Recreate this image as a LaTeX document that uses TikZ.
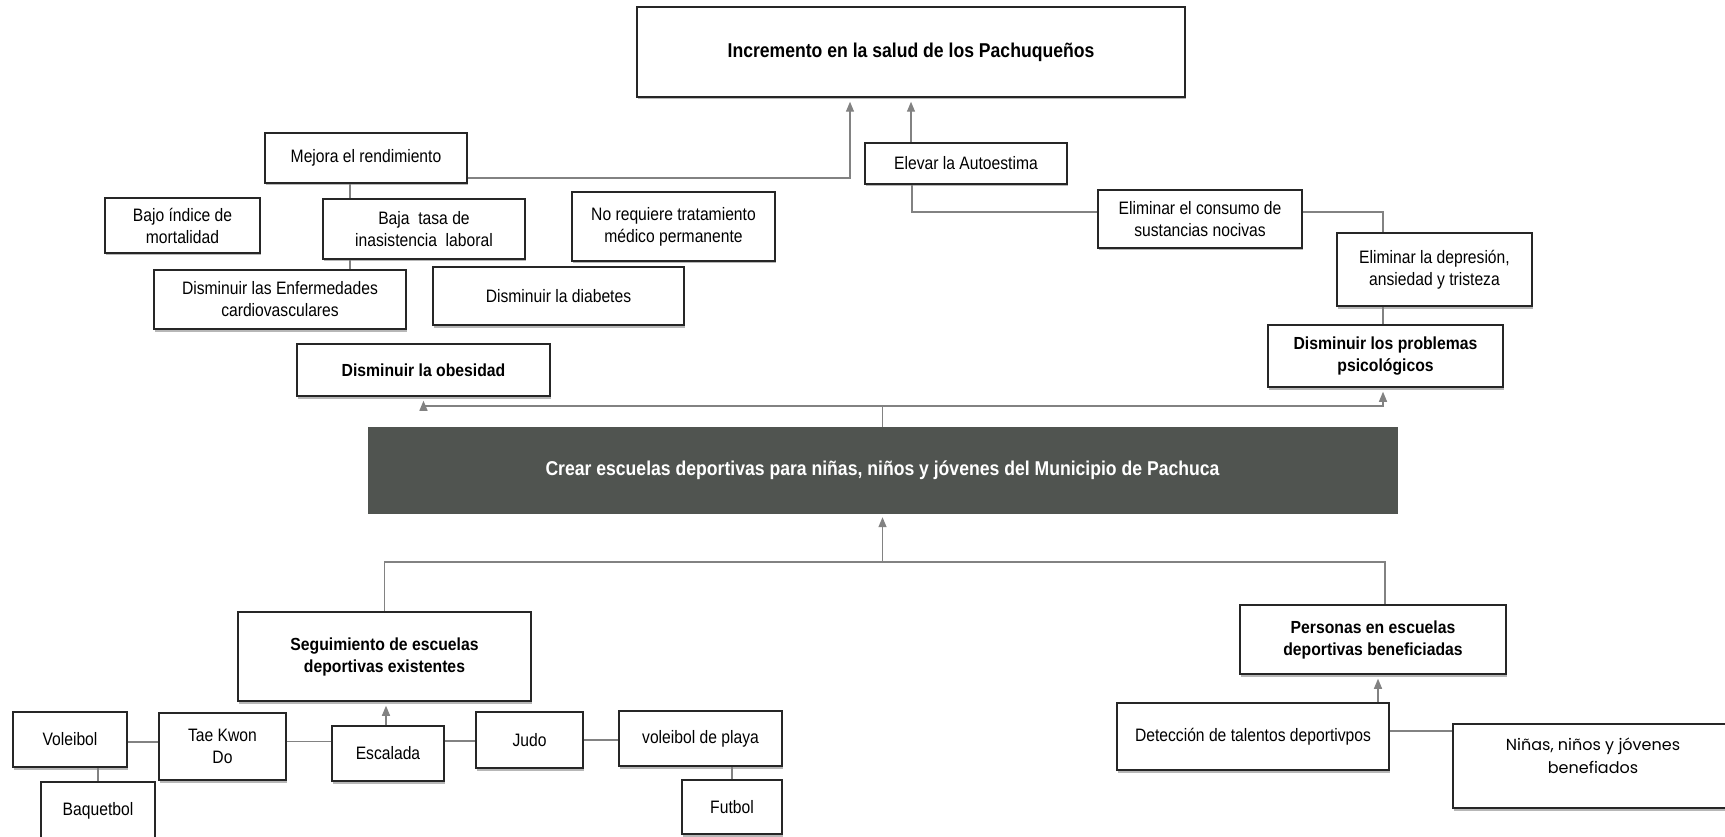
\documentclass[tikz,border=0pt]{standalone}
\usepackage{fontspec}
\setmainfont{Liberation Sans}
\newfontfamily\condfont[FakeStretch=0.87]{Liberation Sans}
\newfontfamily\condbold[FakeStretch=0.9]{Liberation Sans Bold}
\newfontfamily\titlebold[FakeStretch=0.88]{Liberation Sans Bold}
\newfontfamily\gothfont{Poppins}
\usetikzlibrary{arrows.meta,shadows}
\definecolor{darkbox}{RGB}{80,84,80}
\definecolor{linkgray}{RGB}{130,130,130}
\tikzset{
  box/.style={draw=black!85, line width=1.5pt, fill=white, inner sep=0pt, align=center,
    font=\condfont\fontsize{18}{22}\selectfont,
    drop shadow={shadow xshift=1pt, shadow yshift=-2.5pt, fill=black!35, opacity=0.8}},
  bbox/.style={box, font=\condbold\fontsize{17.5}{22}\selectfont},
  link/.style={draw=linkgray, line width=1.3pt},
  arr/.style={link, -{Triangle[width=8pt,length=10pt]}, shorten >=4pt},
}
\begin{document}
\begin{tikzpicture}[x=1pt,y=-1pt]
\useasboundingbox (0,0) rectangle (1725,837);
\fill[white] (0,0) rectangle (1725,837);
% upper part
\node[box, minimum width=548pt, minimum height=90pt,
  font=\titlebold\fontsize{20}{24}\selectfont] (top) at (911,52) {Incremento en la salud de los Pachuqueños};
\node[box, minimum width=202pt, minimum height=50pt] (mejora) at (366,158) {Mejora el rendimiento};
\node[box, minimum width=202pt, minimum height=41pt] (elevar) at (966,163.5) {Elevar la Autoestima};
\node[box, minimum width=155pt, minimum height=55pt] (bajo) at (182.5,225.5) {Bajo índice de\\mortalidad};
\node[box, minimum width=202pt, minimum height=60pt] (baja) at (424,229) {Baja\ \ tasa de\\inasistencia\ \ laboral};
\node[box, minimum width=203pt, minimum height=69pt] (noreq) at (673.5,226.5) {No requiere tratamiento\\médico permanente};
\node[box, minimum width=252pt, minimum height=59pt] (enferm) at (280,299.5) {Disminuir las Enfermedades\\cardiovasculares};
\node[box, minimum width=251pt, minimum height=58pt] (diab) at (558.5,296) {Disminuir la diabetes};
\node[box, minimum width=204pt, minimum height=58pt] (consumo) at (1200,219) {Eliminar el consumo de\\sustancias nocivas};
\node[box, minimum width=195pt, minimum height=73pt] (depres) at (1434.5,269.5) {Eliminar la depresión,\\ansiedad y tristeza};
\node[bbox, minimum width=235pt, minimum height=62pt] (problemas) at (1385.5,356) {Disminuir los problemas\\psicológicos};
\node[bbox, minimum width=253pt, minimum height=52pt] (obesidad) at (423.5,370) {Disminuir la obesidad};
% central
\node[fill=darkbox, draw=darkbox, inner sep=0pt, minimum width=1029pt, minimum height=86pt,
  text=white, font=\titlebold\fontsize{20}{24}\selectfont] (central) at (882.5,470)
  {Crear escuelas deportivas para niñas, niños y jóvenes del Municipio de Pachuca};
% lower part
\node[bbox, minimum width=293pt, minimum height=89pt] (seguim) at (384.5,656.5) {Seguimiento de escuelas\\deportivas existentes};
\node[bbox, minimum width=266pt, minimum height=69pt] (personas) at (1373,639.5) {Personas en escuelas\\deportivas beneficiadas};
\node[box, minimum width=114pt, minimum height=55pt] (voleibol) at (70,739.5) {Voleibol};
\node[box, minimum width=127pt, minimum height=67pt] (tae) at (222.5,746.5) {Tae Kwon\\Do};
\node[box, minimum width=112pt, minimum height=55pt] (escalada) at (388,753.5) {Escalada};
\node[box, minimum width=107pt, minimum height=56pt] (judo) at (529.5,740) {Judo};
\node[box, minimum width=163pt, minimum height=55pt] (playa) at (700.5,738.5) {voleibol de playa};
\node[box, minimum width=100pt, minimum height=54pt] (futbol) at (732,807) {Futbol};
\node[box, minimum width=114pt, minimum height=58pt] (baquet) at (98,811) {Baquetbol};
\node[box, minimum width=272pt, minimum height=67pt] (deteccion) at (1253,736.5) {Detección de talentos deportivpos};
\node[box, minimum width=280pt, minimum height=84pt,
  label={[font=\gothfont\fontsize{16}{23}\selectfont, align=center, yshift=10pt]center:Niñas, niños y jóvenes\\benefiados}] (ninas) at (1593,766) {};
% connectors upper
\draw[arr] ([yshift=-20pt]mejora.east) -| ([xshift=-61pt]top.south);
\draw[arr] ([xshift=-55pt]elevar.north) -- (top.south);
\draw[link] ([xshift=-54pt]elevar.south) |- ([yshift=7pt]consumo.west);
\draw[link] ([yshift=7pt]consumo.east) -| ([xshift=-51.5pt]depres.north);
\draw[link] ([xshift=-51.5pt]depres.south) -- ([xshift=-2.5pt]problemas.north);
\draw[link] ([xshift=-16pt]mejora.south) -- ([xshift=-74pt]baja.north);
\draw[link] ([xshift=-74pt]baja.south) -- ([xshift=70pt]enferm.north);
\coordinate (jt) at (882.5,406);
\draw[link] (central.north) -- (jt);
\draw[arr] (jt) -| (obesidad.south);
\draw[arr] (jt) -| ([xshift=-2.5pt]problemas.south);
% connectors lower
\coordinate (jb) at (882.5,562);
\draw[arr] (jb) -- (central.south);
\draw[link] (jb) -| (seguim.north);
\draw[link] (jb) -| ([xshift=12pt]personas.north);
\draw[arr] ([xshift=-2pt]escalada.north) -- ([xshift=-2pt]escalada.north |- seguim.south);
\draw[link] ([yshift=-2.5pt]voleibol.east) -- ([yshift=-2.5pt]voleibol.east -| tae.west);
\draw[link] ([yshift=5pt]tae.east) -- ([yshift=5pt]tae.east -| escalada.west);
\draw[link] ([yshift=12.5pt]escalada.east) -- ([yshift=12.5pt]escalada.east -| judo.west);
\draw[link] (judo.east) -- (judo.east -| playa.west);
\draw[link] (baquet.north |- voleibol.south) -- (baquet.north);
\draw[link] (futbol.north |- playa.south) -- (futbol.north);
\draw[arr] ([xshift=125pt]deteccion.north) -- ([xshift=125pt]deteccion.north |- personas.south);
\draw[link] ([yshift=5.5pt]deteccion.east) -- ([yshift=5.5pt]deteccion.east -| ninas.west);
\end{tikzpicture}
\end{document}
